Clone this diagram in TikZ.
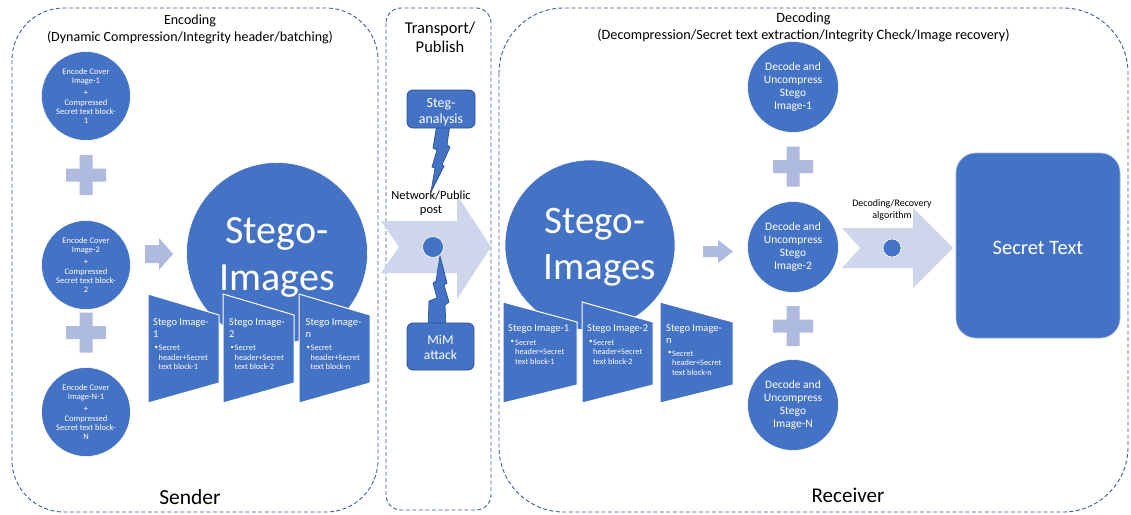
\documentclass[tikz,border=0pt]{standalone}
\usepackage{fontspec}
\setmainfont{Carlito}
\definecolor{mainblue}{RGB}{68,114,196}
\definecolor{borderblue}{RGB}{47,82,143}
\definecolor{dashblue}{RGB}{62,92,150}
\definecolor{plusfill}{RGB}{174,187,223}
\definecolor{bigarrowfill}{RGB}{207,213,234}
\newcommand\FS[2]{\fontsize{#1}{#2}\selectfont}
\newcommand\PlusAt[2]{\fill[plusfill,shift={(#1,#2)}] (-20,-6.5) rectangle (20,6.5) (-6.5,-20) rectangle (6.5,20);}
\begin{document}
\begin{tikzpicture}[x=1pt,y=-1pt,
  dashbox/.style={draw=dashblue, line width=0.9pt, dash pattern=on 4pt off 2.5pt},
  bcirc/.style={circle, fill=mainblue, draw=white, line width=0.6pt, inner sep=0pt},
  wtxt/.style={text=white, inner sep=0pt, align=center},
  ktxt/.style={text=black, inner sep=0pt, align=center},
  trap/.style={fill=mainblue, draw=white, line width=1pt},
  bolt/.style={fill=mainblue, draw=borderblue, line width=0.7pt, line join=miter},
  rbox/.style={fill=mainblue, draw=borderblue, line width=0.8pt, rounded corners=6pt},
  ttl/.style={wtxt, align=left, anchor=north west, font=\FS{10.5}{11.5}},
  bul/.style={wtxt, anchor=north west, font=\FS{7}{9.5}},
  bltx/.style={wtxt, align=left, anchor=north west, font=\FS{8.3}{9.5}}
]
\useasboundingbox (0,0) rectangle (1131,514);
\fill[white] (0,0) rectangle (1131,514);

% dashed group boxes
\draw[dashbox, rounded corners=52pt] (12,8) rectangle (378,512);
\draw[dashbox, rounded corners=15pt] (386,8) rectangle (491,510);
\draw[dashbox, rounded corners=65pt] (499,8) rectangle (1128,512);

% titles
\node[ktxt, font=\FS{14}{17}] (enctitle) at (190,29) {Encoding\\(Dynamic Compression/Integrity header/batching)};
\node[ktxt, font=\FS{21.5}{24}] (sender) at (190,497) {Sender};
\node[ktxt, font=\FS{16.5}{19.5}] (transtitle) at (440,37.5) {Transport/\\Publish};
\node[ktxt, font=\FS{14.2}{17}] (dectitle) at (803.5,27) {Decoding\\(Decompression/Secret text extraction/Integrity Check/Image recovery)};
\node[ktxt, font=\FS{21}{24}] (receiver) at (848,495) {Receiver};

% big block arrows
\fill[bigarrowfill] (381,221) -- (457,221) -- (457,195) -- (491,247) -- (457,299) -- (457,273) -- (381,273) -- (399,247) -- cycle;
\fill[bigarrowfill] (842,228) -- (913,228) -- (913,208) -- (953,248) -- (913,288) -- (913,268) -- (842,268) -- (860,248) -- cycle;
\node[bcirc, minimum size=21pt] (netdot) at (433,247) {};
\node[bcirc, minimum size=18pt] (algdot) at (892,248) {};
\node[ktxt, font=\FS{12.5}{14}] (netlabel) at (431,203) {Network/Public\\post};
\node[ktxt, font=\FS{10}{12}] (alglabel) at (892,210) {Decoding/Recovery\\algorithm};

% encode circles
\node[bcirc, minimum size=89pt] (enc1) at (86,96) {};
\node[wtxt, font=\FS{8.5}{9.3}] (enc1t) at (enc1) {Encode Cover\\Image-1\\[3pt]+\\Compressed\\Secret text block-\\1};
\node[bcirc, minimum size=89pt] (enc2) at (86,265) {};
\node[wtxt, font=\FS{8.5}{9.3}] (enc2t) at (enc2) {Encode Cover\\Image-2\\[3pt]+\\Compressed\\Secret text block-\\2};
\node[bcirc, minimum size=89pt] (enc3) at (86,412) {};
\node[wtxt, font=\FS{8.5}{9.3}] (enc3t) at (enc3) {Encode Cover\\Image-N-1\\[3pt]+\\Compressed\\Secret text block-\\N};
\PlusAt{86}{175}
\PlusAt{86}{332.5}
\fill[plusfill] (145,245) -- (159,245) -- (159,238) -- (173,254) -- (159,270) -- (159,263) -- (145,263) -- cycle;

% sender big circle
\node[bcirc, minimum size=181pt] (sbig) at (277,253) {};
\node[wtxt, anchor=base, font=\FS{40}{47}] (sbig1) at (277,243) {Stego-};
\node[wtxt, anchor=base, font=\FS{40}{47}] (sbig2) at (277,290) {Images};

% sender stego image cards
\filldraw[trap] (148,294) -- (219,315) -- (219,383) -- (148,403) -- cycle;
\filldraw[trap] (223,294) -- (294,315) -- (294,383) -- (223,403) -- cycle;
\filldraw[trap] (299,294) -- (370,315) -- (370,383) -- (299,403) -- cycle;
\node[ttl] (s1a) at (153,318.5) {Stego Image-\\1};
\node[bul] (s1b) at (154.5,346) {\textbullet};
\node[bltx] (s1c) at (158.5,345) {Secret\\header+Secret\\text block-1};
\node[ttl] (s2a) at (229,318.5) {Stego Image-\\2};
\node[bul] (s2b) at (230.5,346) {\textbullet};
\node[bltx] (s2c) at (234.5,345) {Secret\\header+Secret\\text block-2};
\node[ttl] (s3a) at (305.5,318.5) {Stego Image-\\n};
\node[bul] (s3b) at (306.5,346) {\textbullet};
\node[bltx] (s3c) at (310.5,345) {Secret\\header+Secret\\text block-n};

% transport: steg-analysis and MiM
\filldraw[bolt] (437,124) -- (450,124) -- (447,145) -- (450,147) -- (442,165) -- (444,166) -- (431,192) -- (435,168) -- (432,167) -- (437,150) -- (433,148) -- cycle;
\node[rbox, minimum width=68pt, minimum height=38pt] (steg) at (441,109) {};
\node[wtxt, font=\FS{14}{16}] (stegt) at (441,112) {Steg-\\analysis};
\filldraw[bolt] (428,327) -- (446,327) -- (445,305) -- (449,302) -- (444,285) -- (447,283) -- (440,256) -- (436,281) -- (433,283) -- (437,298) -- (429,301) -- cycle;
\node[rbox, minimum width=67pt, minimum height=47pt] (mim) at (440.5,346.5) {};
\node[wtxt, font=\FS{13.5}{15}] (mimt) at (440.5,347.5) {MiM\\attack};

% receiver big circle
\node[bcirc, minimum size=170pt] (rbig) at (590,245) {};
\node[wtxt, anchor=base, font=\FS{39}{46}] (rbig1) at (595,233) {Stego-};
\node[wtxt, anchor=base, font=\FS{39}{46}] (rbig2) at (600,279) {Images};
\fill[plusfill] (703,246) -- (718,246) -- (718,240) -- (733,251.5) -- (718,263) -- (718,257) -- (703,257) -- cycle;

% receiver stego image cards
\filldraw[trap] (503,302) -- (577,322) -- (577,385) -- (503,403) -- cycle;
\filldraw[trap] (582,302) -- (653,322) -- (653,385) -- (582,403) -- cycle;
\filldraw[trap] (660,302) -- (733,322) -- (733,385) -- (660,403) -- cycle;
\node[ttl] (r1a) at (508,324.5) {Stego Image-1};
\node[bul] (r1b) at (510.5,340.5) {\textbullet};
\node[bltx] (r1c) at (515,339.5) {Secret\\header+Secret\\text block-1};
\node[ttl] (r2a) at (587,324.5) {Stego Image-2};
\node[bul] (r2b) at (589,340.5) {\textbullet};
\node[bltx] (r2c) at (593,339.5) {Secret\\header+Secret\\text block-2};
\node[ttl] (r3a) at (666,324.5) {Stego Image-\\n};
\node[bul] (r3b) at (668,351.5) {\textbullet};
\node[bltx] (r3c) at (672,350.5) {Secret\\header+Secret\\text block-n};

% decode circles
\node[bcirc, minimum size=91pt] (dec1) at (793,87) {};
\node[wtxt, font=\FS{11.5}{13.2}] (dec1t) at (dec1) {Decode and\\Uncompress\\Stego\\Image-1};
\node[bcirc, minimum size=91pt] (dec2) at (793,247) {};
\node[wtxt, font=\FS{11.5}{13.2}] (dec2t) at (dec2) {Decode and\\Uncompress\\Stego\\Image-2};
\node[bcirc, minimum size=91pt] (dec3) at (793,405) {};
\node[wtxt, font=\FS{11.5}{13.2}] (dec3t) at (dec3) {Decode and\\Uncompress\\Stego\\Image-N};
\PlusAt{793}{166.5}
\PlusAt{793}{326}

% secret text
\node[fill=mainblue, draw=mainblue!55!white, line width=0.6pt, rounded corners=20pt, minimum width=164pt, minimum height=185pt] (sbox) at (1038,245.5) {};
\node[wtxt, font=\FS{20.5}{24}] (sboxt) at (1038,248) {Secret Text};
\end{tikzpicture}
\end{document}
